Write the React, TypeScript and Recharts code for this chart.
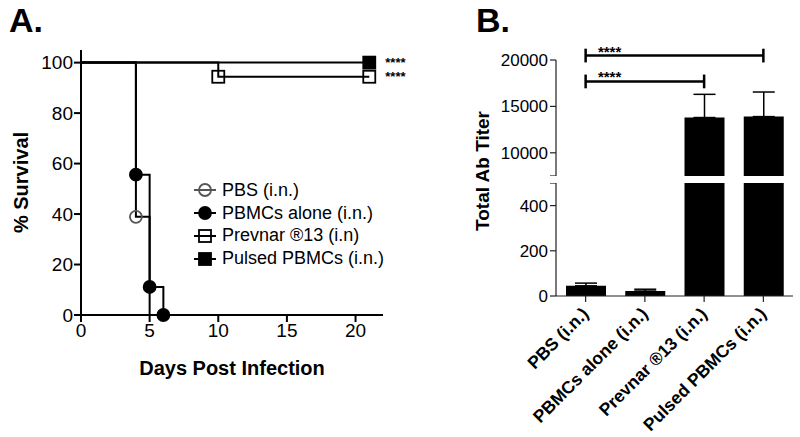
import React from "react";
import {
  Bar,
  BarChart,
  ComposedChart,
  ErrorBar,
  Legend,
  Line,
  ReferenceDot,
  ReferenceLine,
  XAxis,
  YAxis,
} from "recharts";

const FONT = "'Liberation Sans', Arial, sans-serif";

// --- Panel A: survival (day, % alive); mark = symbol drawn at that step
const pbsSurv = [
  { day: 0, pct: 100 },
  { day: 4, pct: 38.9, mark: true },
  { day: 5, pct: 0 },
];
const pbmcSurv = [
  { day: 0, pct: 100 },
  { day: 4, pct: 55.6, mark: true },
  { day: 5, pct: 11.1, mark: true },
  { day: 6, pct: 0, mark: true },
];
const prevnarSurv = [
  { day: 0, pct: 100 },
  { day: 10, pct: 94.4, mark: true },
  { day: 21, pct: 94.4, mark: true },
];
const pulsedSurv = [
  { day: 0, pct: 100 },
  { day: 21, pct: 100, mark: true },
];
const dayTicks = [0, 5, 10, 15, 20];
const pctTicks = [0, 20, 40, 60, 80, 100];
const survSig = [
  { day: 21, pct: 100, text: "****" },
  { day: 21, pct: 94.4, text: "****" },
];

const survSeries = [
  { name: "PBS (i.n.)", data: pbsSurv, shape: "circle", filled: false, color: "#555" },
  { name: "PBMCs alone (i.n.)", data: pbmcSurv, shape: "circle", filled: true, color: "#000" },
  { name: "Prevnar ®13 (i.n)", data: prevnarSurv, shape: "square", filled: false, color: "#000" },
  { name: "Pulsed PBMCs (i.n.)", data: pulsedSurv, shape: "square", filled: true, color: "#000" },
];

// --- Panel B: antibody titers
const groups = ["PBS (i.n.)", "PBMCs alone (i.n.)", "Prevnar ®13 (i.n.)", "Pulsed PBMCs (i.n.)"];
const titer = [45, 22, 13800, 13900];
const titerSem = [12, 8, 2500, 2650];
const upperTicks = [7500, 10000, 15000, 20000];
const lowerTicks = [0, 200, 400, 500];
const brackets = [
  { from: groups[0], to: groups[3], y: 20480, text: "****" },
  { from: groups[0], to: groups[2], y: 17690, text: "****" },
];

const titerRows = groups.map((g, i) => ({ group: g, titer: titer[i], err: [0, titerSem[i]] }));

const Marker = ({ shape, filled, color, cx, cy }: any) => {
  const fill = filled ? color : "none";
  if (shape === "circle") {
    return <circle cx={cx} cy={cy} r={6} fill={fill} stroke={color} strokeWidth={1.8} />;
  }
  return <rect x={cx - 6} y={cy - 6} width={12} height={12} fill={fill} stroke={color} strokeWidth={1.8} />;
};

const LegendBox = () => (
  <div style={{ fontFamily: FONT, fontSize: 18, color: "#000" }}>
    {survSeries.map((s) => (
      <div key={s.name} style={{ display: "flex", alignItems: "center", height: 22.8 }}>
        <svg width={24} height={16} style={{ marginRight: 5 }}>
          <line x1={1} y1={8} x2={23} y2={8} stroke={s.color} strokeWidth={2} />
          <Marker shape={s.shape} filled={s.filled} color={s.color} cx={12} cy={8} />
        </svg>
        <span style={{ whiteSpace: "nowrap" }}>{s.name}</span>
      </div>
    ))}
  </div>
);

const SlantTick = ({ x, y, payload }: any) => {
  const ax = x + 4;
  const ay = y + 11;
  return (
    <text
      x={ax}
      y={ay}
      transform={`rotate(-45, ${ax}, ${ay})`}
      textAnchor="end"
      fontSize={17.5}
      fontWeight="bold"
      fill="#000"
    >
      {payload.value}
    </text>
  );
};

const axisB = { stroke: "#222", strokeWidth: 1.2 };

export default function App() {
  return (
    <div
      style={{
        position: "absolute",
        left: 0,
        top: 0,
        width: 800,
        height: 437,
        background: "#fff",
        fontFamily: FONT,
        overflow: "hidden",
      }}
    >
      <div style={{ position: "absolute", left: 9, top: 1, fontSize: 34, fontWeight: "bold" }}>A.</div>
      <div style={{ position: "absolute", left: 476, top: 1, fontSize: 34, fontWeight: "bold" }}>B.</div>

      {/* Survival curves */}
      <div style={{ position: "absolute", left: 0, top: 0 }}>
        <ComposedChart width={430} height={437} margin={{ top: 50, right: 47, bottom: 62, left: 0 }}>
          <XAxis
            dataKey="day"
            type="number"
            domain={[0, 22]}
            ticks={dayTicks}
            height={60}
            tickSize={7}
            tickMargin={2}
            tick={{ fontSize: 19, fill: "#000" }}
            axisLine={{ stroke: "#000", strokeWidth: 2 }}
            tickLine={{ stroke: "#000", strokeWidth: 2 }}
            label={{ value: "Days Post Infection", position: "insideBottom", offset: 0, fontSize: 20, fontWeight: "bold", fill: "#000" }}
          />
          <YAxis
            type="number"
            domain={[0, 105]}
            ticks={pctTicks}
            width={81}
            tickSize={7}
            tickMargin={1}
            tick={{ fontSize: 19, fill: "#000" }}
            axisLine={{ stroke: "#000", strokeWidth: 2 }}
            tickLine={{ stroke: "#000", strokeWidth: 2 }}
            label={{ value: "% Survival", angle: -90, position: "center", dx: -20, fontSize: 20, fontWeight: "bold", fill: "#000" }}
          />
          {survSeries.map((s) => (
            <Line
              key={s.name}
              name={s.name}
              data={s.data}
              dataKey="pct"
              type="stepAfter"
              stroke="#000"
              strokeWidth={2}
              legendType="none"
              activeDot={false}
              isAnimationActive={false}
              dot={(p: any) =>
                p.payload.mark ? (
                  <Marker key={`${s.name}-${p.index}`} shape={s.shape} filled={s.filled} color={s.color} cx={p.cx} cy={p.cy} />
                ) : (
                  <g key={`${s.name}-${p.index}`} />
                )
              }
            />
          ))}
          {survSig.map((d) => (
            <ReferenceDot
              key={d.pct}
              x={d.day}
              y={d.pct}
              r={0}
              stroke="none"
              label={{ value: d.text, position: "right", offset: 16, fontSize: 13, fontWeight: "bold", fill: "#000" }}
            />
          ))}
          <Legend
            layout="vertical"
            align="center"
            verticalAlign="middle"
            wrapperStyle={{ left: 193, top: 179, width: 220 }}
            content={() => <LegendBox />}
          />
        </ComposedChart>
      </div>

      {/* Titer y-axis title spans both halves of the broken axis */}
      <div
        style={{
          position: "absolute",
          left: 483,
          top: 171,
          transform: "translate(-50%, -50%) rotate(-90deg)",
          whiteSpace: "nowrap",
          fontSize: 19,
          fontWeight: "bold",
        }}
      >
        Total Ab Titer
      </div>

      {/* Upper part of broken axis */}
      <div style={{ position: "absolute", left: 400, top: 0 }}>
        <BarChart width={400} height={176} data={titerRows} margin={{ top: 60, right: 7, bottom: 0, left: 0 }}>
          <XAxis dataKey="group" hide />
          <YAxis
            type="number"
            domain={[7500, 20000]}
            allowDataOverflow
            ticks={upperTicks}
            tickFormatter={(v: number) => (v === 7500 ? "" : String(v))}
            width={156}
            tickSize={6}
            tickMargin={2}
            tick={{ fontSize: 17, fill: "#000" }}
            axisLine={axisB}
            tickLine={axisB}
          />
          <Bar dataKey="titer" fill="#000" barSize={40} isAnimationActive={false}>
            <ErrorBar dataKey="err" width={11} stroke="#000" strokeWidth={1.5} direction="y" />
          </Bar>
          {brackets.map((b) => (
            <React.Fragment key={b.y}>
              <ReferenceLine
                segment={[{ x: b.from, y: b.y }, { x: b.to, y: b.y }]}
                stroke="#000"
                strokeWidth={2.5}
                ifOverflow="visible"
              />
              <ReferenceLine
                segment={[{ x: b.from, y: b.y - 740 }, { x: b.from, y: b.y + 740 }]}
                stroke="#000"
                strokeWidth={2.5}
                ifOverflow="visible"
              />
              <ReferenceLine
                segment={[{ x: b.to, y: b.y - 740 }, { x: b.to, y: b.y + 740 }]}
                stroke="#000"
                strokeWidth={2.5}
                ifOverflow="visible"
              />
              <ReferenceDot
                x={b.from}
                y={b.y}
                r={0}
                stroke="none"
                ifOverflow="visible"
                label={{ value: b.text, position: "top", offset: -1, dx: 24, fontSize: 15, fontWeight: "bold", fill: "#000" }}
              />
            </React.Fragment>
          ))}
        </BarChart>
      </div>

      {/* Lower part of broken axis */}
      <div style={{ position: "absolute", left: 400, top: 183 }}>
        <BarChart width={400} height={254} data={titerRows} margin={{ top: 0, right: 7, bottom: 0, left: 0 }}>
          <XAxis
            dataKey="group"
            height={141}
            interval={0}
            tickSize={6}
            tick={<SlantTick />}
            axisLine={axisB}
            tickLine={axisB}
          />
          <YAxis
            type="number"
            domain={[0, 500]}
            allowDataOverflow
            ticks={lowerTicks}
            tickFormatter={(v: number) => (v === 500 ? "" : String(v))}
            width={156}
            tickSize={6}
            tickMargin={2}
            tick={{ fontSize: 17, fill: "#000" }}
            axisLine={axisB}
            tickLine={axisB}
          />
          <Bar dataKey="titer" fill="#000" barSize={40} isAnimationActive={false}>
            <ErrorBar dataKey="err" width={11} stroke="#000" strokeWidth={1.5} direction="y" />
          </Bar>
        </BarChart>
      </div>
    </div>
  );
}
